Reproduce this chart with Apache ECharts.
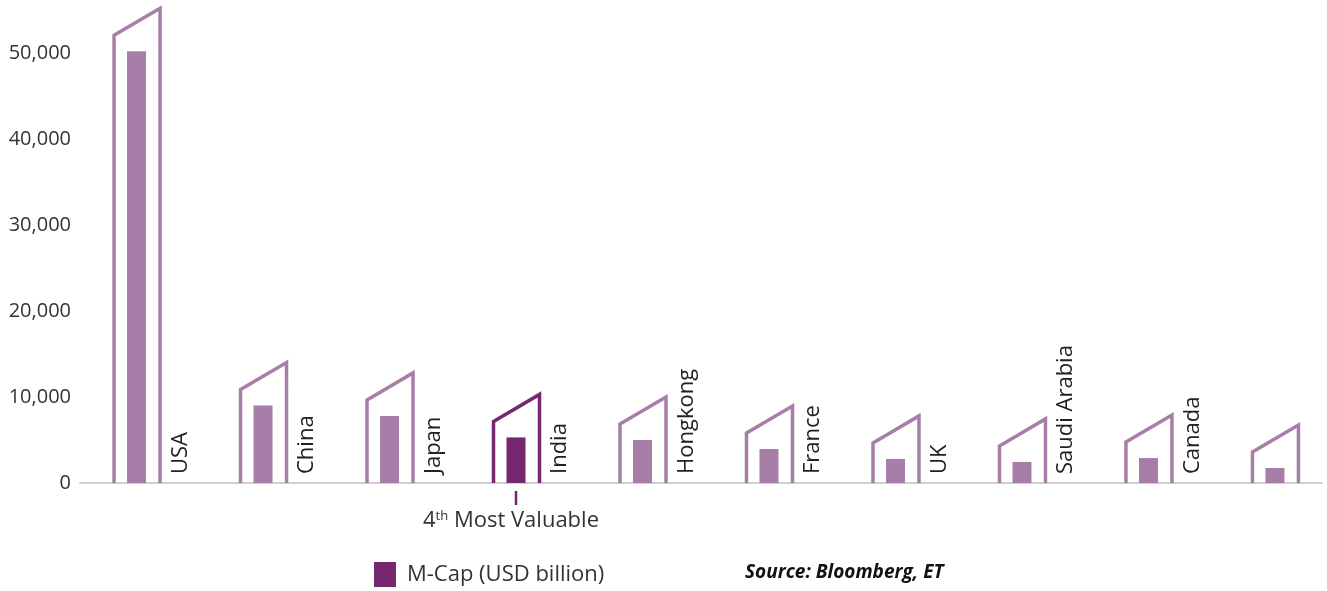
<!DOCTYPE html>
<html>
<head>
<meta charset="utf-8">
<script src="https://cdn.jsdelivr.net/npm/echarts@6/dist/echarts.min.js"></script>
<style>
html, body { margin: 0; padding: 0; background: #fff; }
#chart { width: 1327px; height: 591px; }
</style>
</head>
<body>
<div id="chart"></div>
<script>
// market cap by country, USD billion
const categories = ['USA', 'China', 'Japan', 'India', 'Hongkong', 'France', 'UK', 'Saudi Arabia', 'Canada', ''];
const mcap = [50200, 9000, 7800, 5300, 5000, 3950, 2800, 2450, 2900, 1750];
const highlight = 'India';
const note = '4{s|th} Most Valuable';
const seriesName = 'M-Cap (USD billion)';
const source = 'Source: Bloomberg, ET';

const light = '#a67ea7';
const dark = '#75286f';
const font = 'Open Sans';

function renderItem(params, api) {
    const i = api.value(0);
    const top = api.coord([i, api.value(1)]);
    const base = api.coord([i, 0]);
    const cx = top[0];
    const hi = categories[i] === highlight;
    const color = hi ? dark : light;
    const children = [{
        type: 'polyline',
        shape: {
            points: [[cx - 22.5, base[1]], [cx - 22.5, top[1] - 16], [cx + 23.5, top[1] - 43], [cx + 23.5, base[1]]]
        },
        style: { stroke: color, lineWidth: 3.5, fill: 'none' }
    }, {
        type: 'rect',
        shape: { x: cx - 9.5, y: top[1], width: 19, height: base[1] - top[1] },
        style: { fill: color }
    }, {
        type: 'text',
        x: cx + 44,
        y: base[1] - 9,
        rotation: Math.PI / 2,
        style: {
            text: categories[i],
            fontFamily: font,
            fontSize: 22,
            fill: '#222',
            align: 'left',
            verticalAlign: 'middle'
        }
    }];
    if (hi) {
        children.push({
            type: 'line',
            shape: { x1: cx, y1: base[1] + 8, x2: cx, y2: base[1] + 22 },
            style: { stroke: dark, lineWidth: 2.5 }
        }, {
            type: 'text',
            x: cx - 5,
            y: base[1] + 38,
            style: {
                text: note,
                fontFamily: font,
                fontSize: 22,
                fill: '#333',
                align: 'center',
                verticalAlign: 'middle',
                rich: {
                    s: { fontSize: 13, fontFamily: font, fill: '#333', verticalAlign: 'top', padding: [0, 0, 10, 0] }
                }
            }
        });
    }
    return { type: 'group', children: children };
}

const myChart = echarts.init(document.getElementById('chart'));
myChart.setOption({
    animation: false,
    title: {
        text: source,
        left: 745,
        top: 563,
        padding: 0,
        textStyle: { fontFamily: font, fontSize: 19, fontWeight: 'bold', fontStyle: 'italic', color: '#111' }
    },
    legend: {
        left: 374,
        top: 562,
        padding: 0,
        itemWidth: 22,
        itemHeight: 25,
        icon: 'rect',
        data: [seriesName],
        textStyle: { fontFamily: font, fontSize: 22, color: '#333', padding: [0, 0, 0, 6] }
    },
    grid: {
        left: 80,
        top: 10,
        right: 5,
        bottom: 108
    },
    // countries sit at index 0..9; the range keeps the axis line from 80px to the right edge
    xAxis: {
        type: 'value',
        min: -0.447,
        max: 9.372,
        splitLine: { show: false },
        axisLine: { lineStyle: { color: '#d0d0d0', width: 2 } },
        axisTick: { show: false },
        axisLabel: { show: false }
    },
    yAxis: {
        type: 'value',
        min: 0,
        max: 55000,
        interval: 10000,
        splitLine: { show: false },
        axisLine: { show: false },
        axisTick: { show: false },
        axisLabel: {
            showMaxLabel: false,
            fontFamily: font,
            fontSize: 20,
            color: '#333',
            margin: 9,
            formatter: v => v.toLocaleString('en-US')
        }
    },
    series: [{
        name: seriesName,
        type: 'custom',
        itemStyle: { color: dark },
        renderItem: renderItem,
        data: mcap.map((v, i) => [i, v])
    }]
});
</script>
</body>
</html>
